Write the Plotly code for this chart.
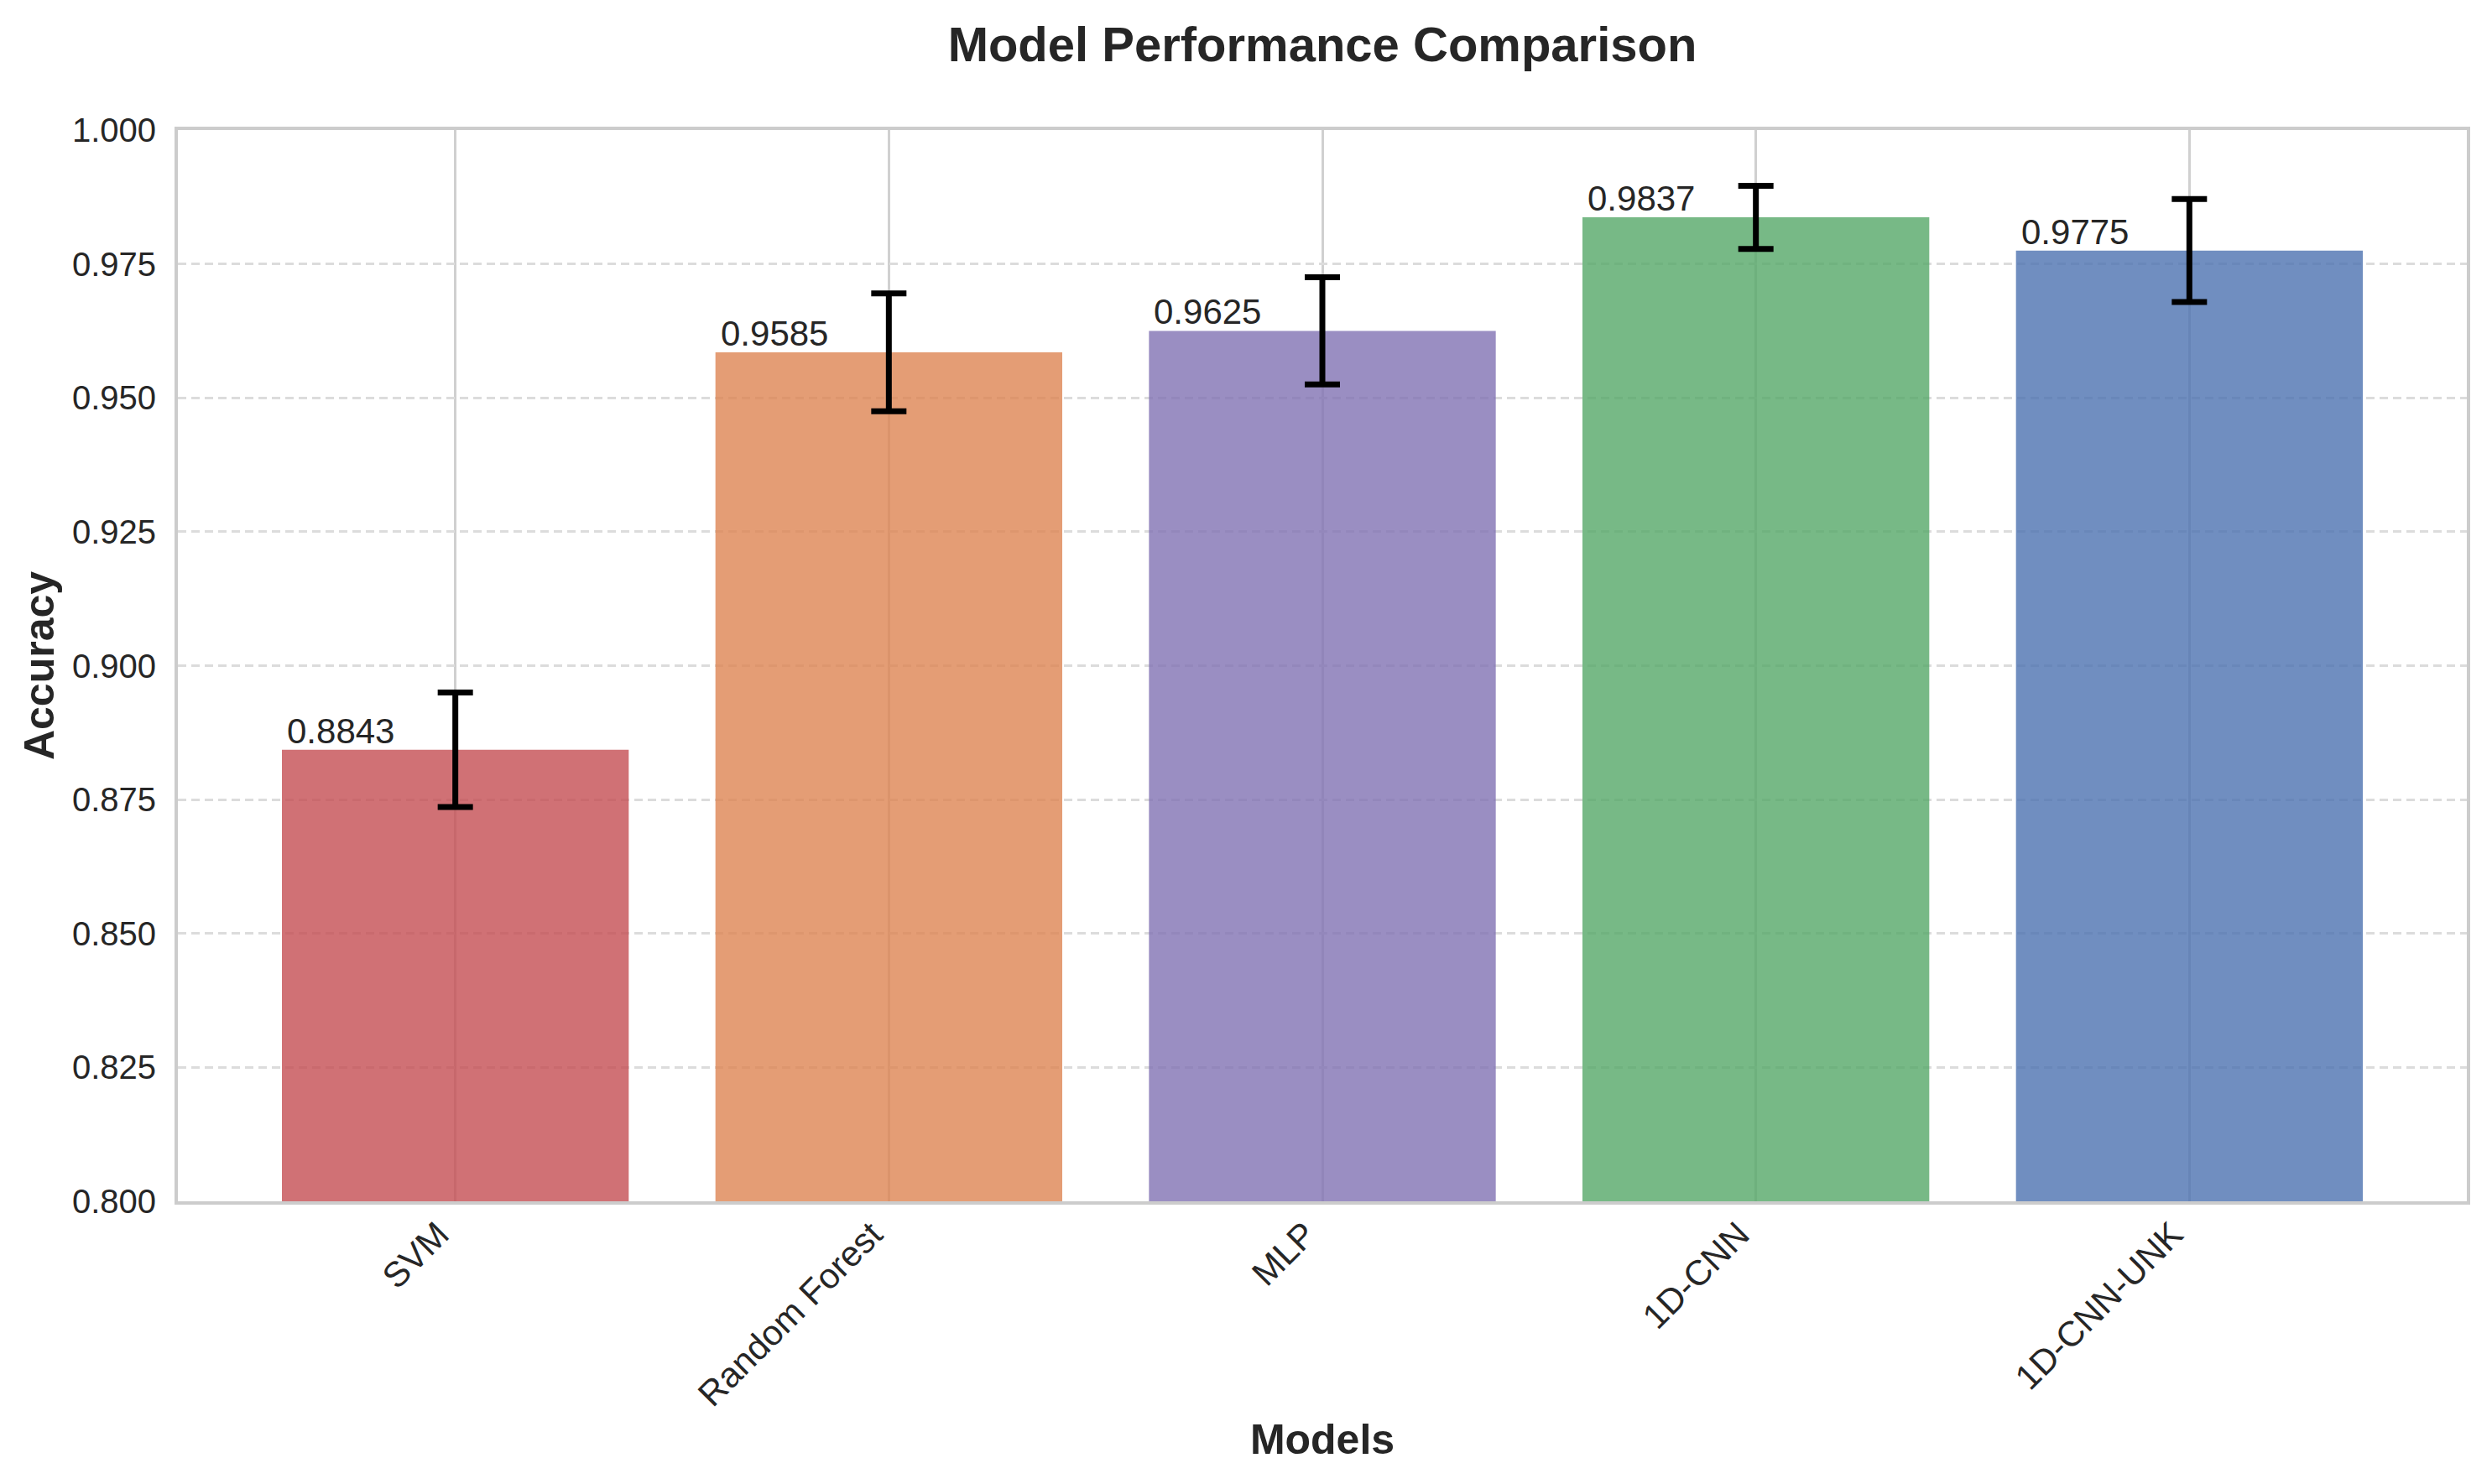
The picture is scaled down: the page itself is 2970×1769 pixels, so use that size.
import plotly.graph_objects as go

models = ["SVM", "Random Forest", "MLP", "1D-CNN", "1D-CNN-UNK"]
accuracy = [0.8843, 0.9585, 0.9625, 0.9837, 0.9775]
errors = [0.0107, 0.0110, 0.0100, 0.0059, 0.0096]
colors = ["rgba(196,78,82,0.8)", "rgba(221,132,82,0.8)", "rgba(129,114,179,0.8)",
          "rgba(85,168,104,0.8)", "rgba(76,114,176,0.8)"]
y_ticks = [0.800, 0.825, 0.850, 0.875, 0.900, 0.925, 0.950, 0.975, 1.000]

xs = list(range(len(models)))
FONT = "Liberation Sans, Arial, sans-serif"
TXT = "#262626"

W, H = 2954, 1753

fig = go.Figure()
fig.add_trace(go.Bar(
    x=xs, y=accuracy, width=0.8,
    marker=dict(color=colors, line=dict(width=0)),
    error_y=dict(type="data", array=errors, visible=True, color="black",
                 thickness=7, width=21),
    showlegend=False,
))

for i, v in enumerate(accuracy):
    fig.add_annotation(x=i - 0.4, y=v, text=f"{v:.4f}", showarrow=False,
                       xanchor="left", yanchor="bottom", xshift=4, yshift=-3,
                       font=dict(family=FONT, size=42, color=TXT))

fig.update_layout(
    width=W, height=H,
    paper_bgcolor="white", plot_bgcolor="white",
    margin=dict(l=204, r=22, t=147, b=329),
    title=dict(text="<b>Model Performance Comparison</b>", x=0.5, xref="paper",
               xanchor="center", y=1 - 45 / H, yanchor="middle",
               font=dict(family=FONT, size=58, color=TXT)),
    font=dict(family=FONT, color=TXT),
)

fig.update_xaxes(
    range=[-0.64, 4.64], tickmode="array", tickvals=xs, ticktext=models,
    tickangle=-45, tickfont=dict(family=FONT, size=42, color=TXT),
    ticklabelshift=-20, ticklabelstandoff=-6,
    showgrid=True, gridcolor="#d0d0d0", gridwidth=3,
    showline=True, linecolor="#cccccc", linewidth=4, mirror=True,
    ticks="", zeroline=False,
    title=dict(text="<b>Models</b>", font=dict(family=FONT, size=50, color=TXT),
               standoff=15),
)
fig.update_yaxes(
    range=[0.8, 1.0], tickmode="array", tickvals=y_ticks,
    ticktext=[f"{t:.3f}" for t in y_ticks],
    tickfont=dict(family=FONT, size=40, color=TXT),
    showgrid=True, gridcolor="#dcdcdc", gridwidth=3, griddash="10px,6px",
    showline=True, linecolor="#cccccc", linewidth=4, mirror=True,
    ticks="", zeroline=False, ticklabelstandoff=14,
    title=dict(text="<b>Accuracy</b>", font=dict(family=FONT, size=50, color=TXT),
               standoff=6),
)

fig.write_html("out.html")
